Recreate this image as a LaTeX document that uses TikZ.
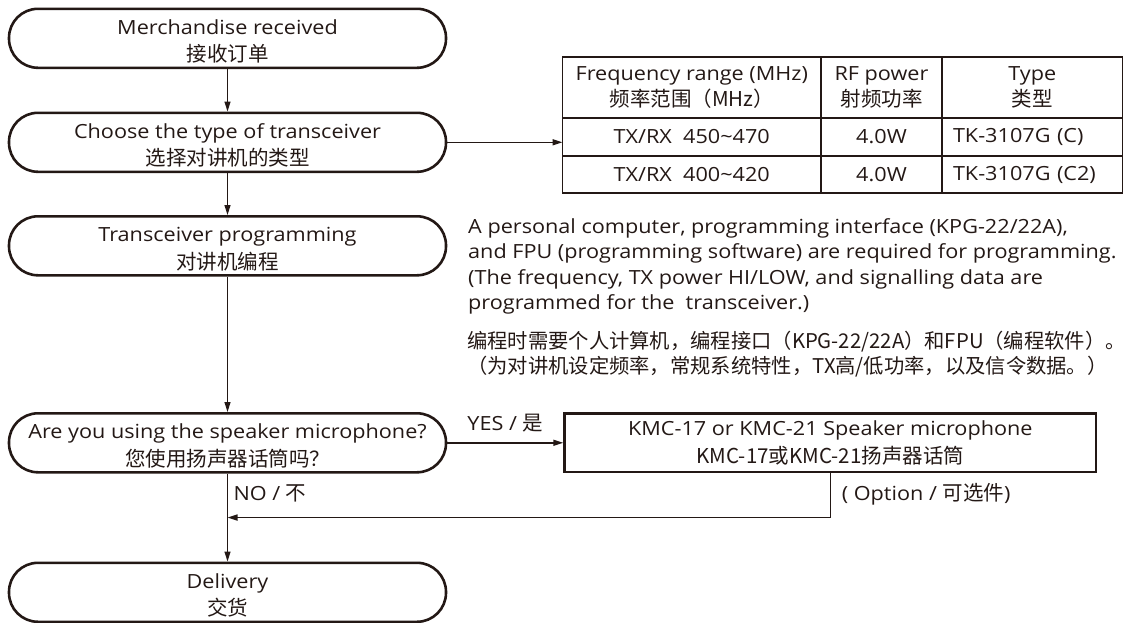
\documentclass[tikz,border=0pt]{standalone}
\usepackage{fontspec}
\setmainfont{Open Sans}[FakeStretch=1.11]
\newfontfamily\cjk{Noto Sans CJK SC}
\newcommand\cnfont{\cjk\fontsize{20.5}{27.5}\selectfont}
\usetikzlibrary{positioning,arrows.meta,calc}
\definecolor{ink}{RGB}{35,24,21}
\tikzset{
  term/.style={draw=ink, rectangle, rounded corners=29pt, line width=2.6pt,
    minimum width=437pt, minimum height=59pt, inner sep=0pt, text height=47pt,
    text depth=0pt, align=center},                                             % 流程框
  optbox/.style={draw=ink, rectangle, line width=2.4pt,
    minimum width=531.6pt, minimum height=58.6pt, inner sep=0pt, align=center}, % 选件框
  cell/.style={draw=ink, rectangle, line width=1.3pt, outer sep=0pt,
    inner sep=0pt, align=center},                                              % 表格单元
  typecell/.style={text width=158.5pt, inner xsep=11pt, align=left},
  arr/.style={draw=ink, line width=1.5pt, -{Triangle[length=10pt,width=6pt]}}
}

\begin{document}
\begin{tikzpicture}[x=1pt, y=-1pt, node distance=104pt,
  every node/.style={text=ink, font=\fontsize{19.5}{27.5}\selectfont}]
  \useasboundingbox (0,0) rectangle (1125,622);

  % 第一列:流程
  \node (recv) [term] at (227.5,38.3) {Merchandise received\\\cnfont 接收订单};
  \node (choose) [term, below of=recv] {Choose the type of transceiver\\\cnfont 选择对讲机的类型};
  \node (prog) [term, below of=choose, yshift=0.5pt] {Transceiver programming\\\cnfont 对讲机编程};
  \node (ask) [term, below of=prog, yshift=-93pt] {Are you using the speaker microphone?\\\cnfont 您使用扬声器话筒吗？};
  \node (deliv) [term, below of=ask, yshift=-45.5pt] {Delivery\\\cnfont 交货};

  % 右上:频率表
  \node (fhead) [cell, minimum width=258.5pt, minimum height=61pt, font=\fontsize{19.5}{25.5}\selectfont] at (691.75,87.5) {Frequency range (MHz)\\\cjk\fontsize{20.5}{25.5}\selectfont 频率范围（MHz）};
  \node (phead) [cell, minimum width=121pt, minimum height=61pt, right=0pt of fhead, font=\fontsize{19.5}{25.5}\selectfont] {RF power\\\cjk\fontsize{20.5}{25.5}\selectfont 射频功率};
  \node (thead) [cell, minimum width=180.5pt, minimum height=61pt, right=0pt of phead, font=\fontsize{19.5}{25.5}\selectfont] {Type\\\cjk\fontsize{20.5}{25.5}\selectfont 类型};
  \node (f1) [cell, minimum width=258.5pt, minimum height=38pt, below=0pt of fhead] {TX/RX\ \ 450\textasciitilde470};
  \node (p1) [cell, minimum width=121pt, minimum height=38pt, right=0pt of f1] {4.0W};
  \node (t1) [cell, typecell, minimum height=38pt, right=0pt of p1] {TK-3107G (C)};
  \node (f2) [cell, minimum width=258.5pt, minimum height=37pt, below=0pt of f1] {TX/RX\ \ 400\textasciitilde420};
  \node (p2) [cell, minimum width=121pt, minimum height=37pt, right=0pt of f2] {4.0W};
  \node (t2) [cell, typecell, minimum height=37pt, right=0pt of p2] {TK-3107G (C2)};

  % 说明文字
  \node (note) [anchor=north west, align=left, inner sep=0pt, font=\fontsize{19.5}{25.3}\selectfont] at (468,218.5)
    {A personal computer, programming interface (KPG-22/22A),\\
     and FPU (programming software) are required for programming.\\
     (The frequency, TX power HI/LOW, and signalling data are\\
     programmed for the\ \ transceiver.)};
  \node (notecn) [anchor=north west, align=left, inner sep=0pt, font=\cjk\fontsize{20.3}{25}\selectfont] at (467,331)
    {编程时需要个人计算机，编程接口（KPG-22/22A）和FPU（编程软件）。\\
     （为对讲机设定频率，常规系统特性，TX高/低功率，以及信令数据。）};

  % 选件
  \node (kmc) [optbox, right=116pt of ask] {KMC-17 or KMC-21 Speaker microphone\\\cnfont KMC-17或KMC-21扬声器话筒};
  \node (opt) [anchor=west] at ([xshift=8pt,yshift=-21pt]kmc.south) {( Option / {\cnfont 可选件})};
  \coordinate (join) at ($(ask.south)!0.5!(deliv.north)$);

  % 连线
  \draw[arr] (recv) -- (choose);
  \draw[arr] (choose) -- (prog);
  \draw[arr] (prog) -- (ask);
  \draw[arr] (ask) -- node[right, pos=0.22, xshift=2pt] {NO / {\cnfont 不}} (deliv);
  \draw[arr] (ask) -- node[above, yshift=7pt] {YES / {\cnfont 是}} (kmc);
  \draw[arr] (kmc.south) |- (join);
  \draw[arr] (choose.east) -- (choose.east -| f1.west);
\end{tikzpicture}
\end{document}
